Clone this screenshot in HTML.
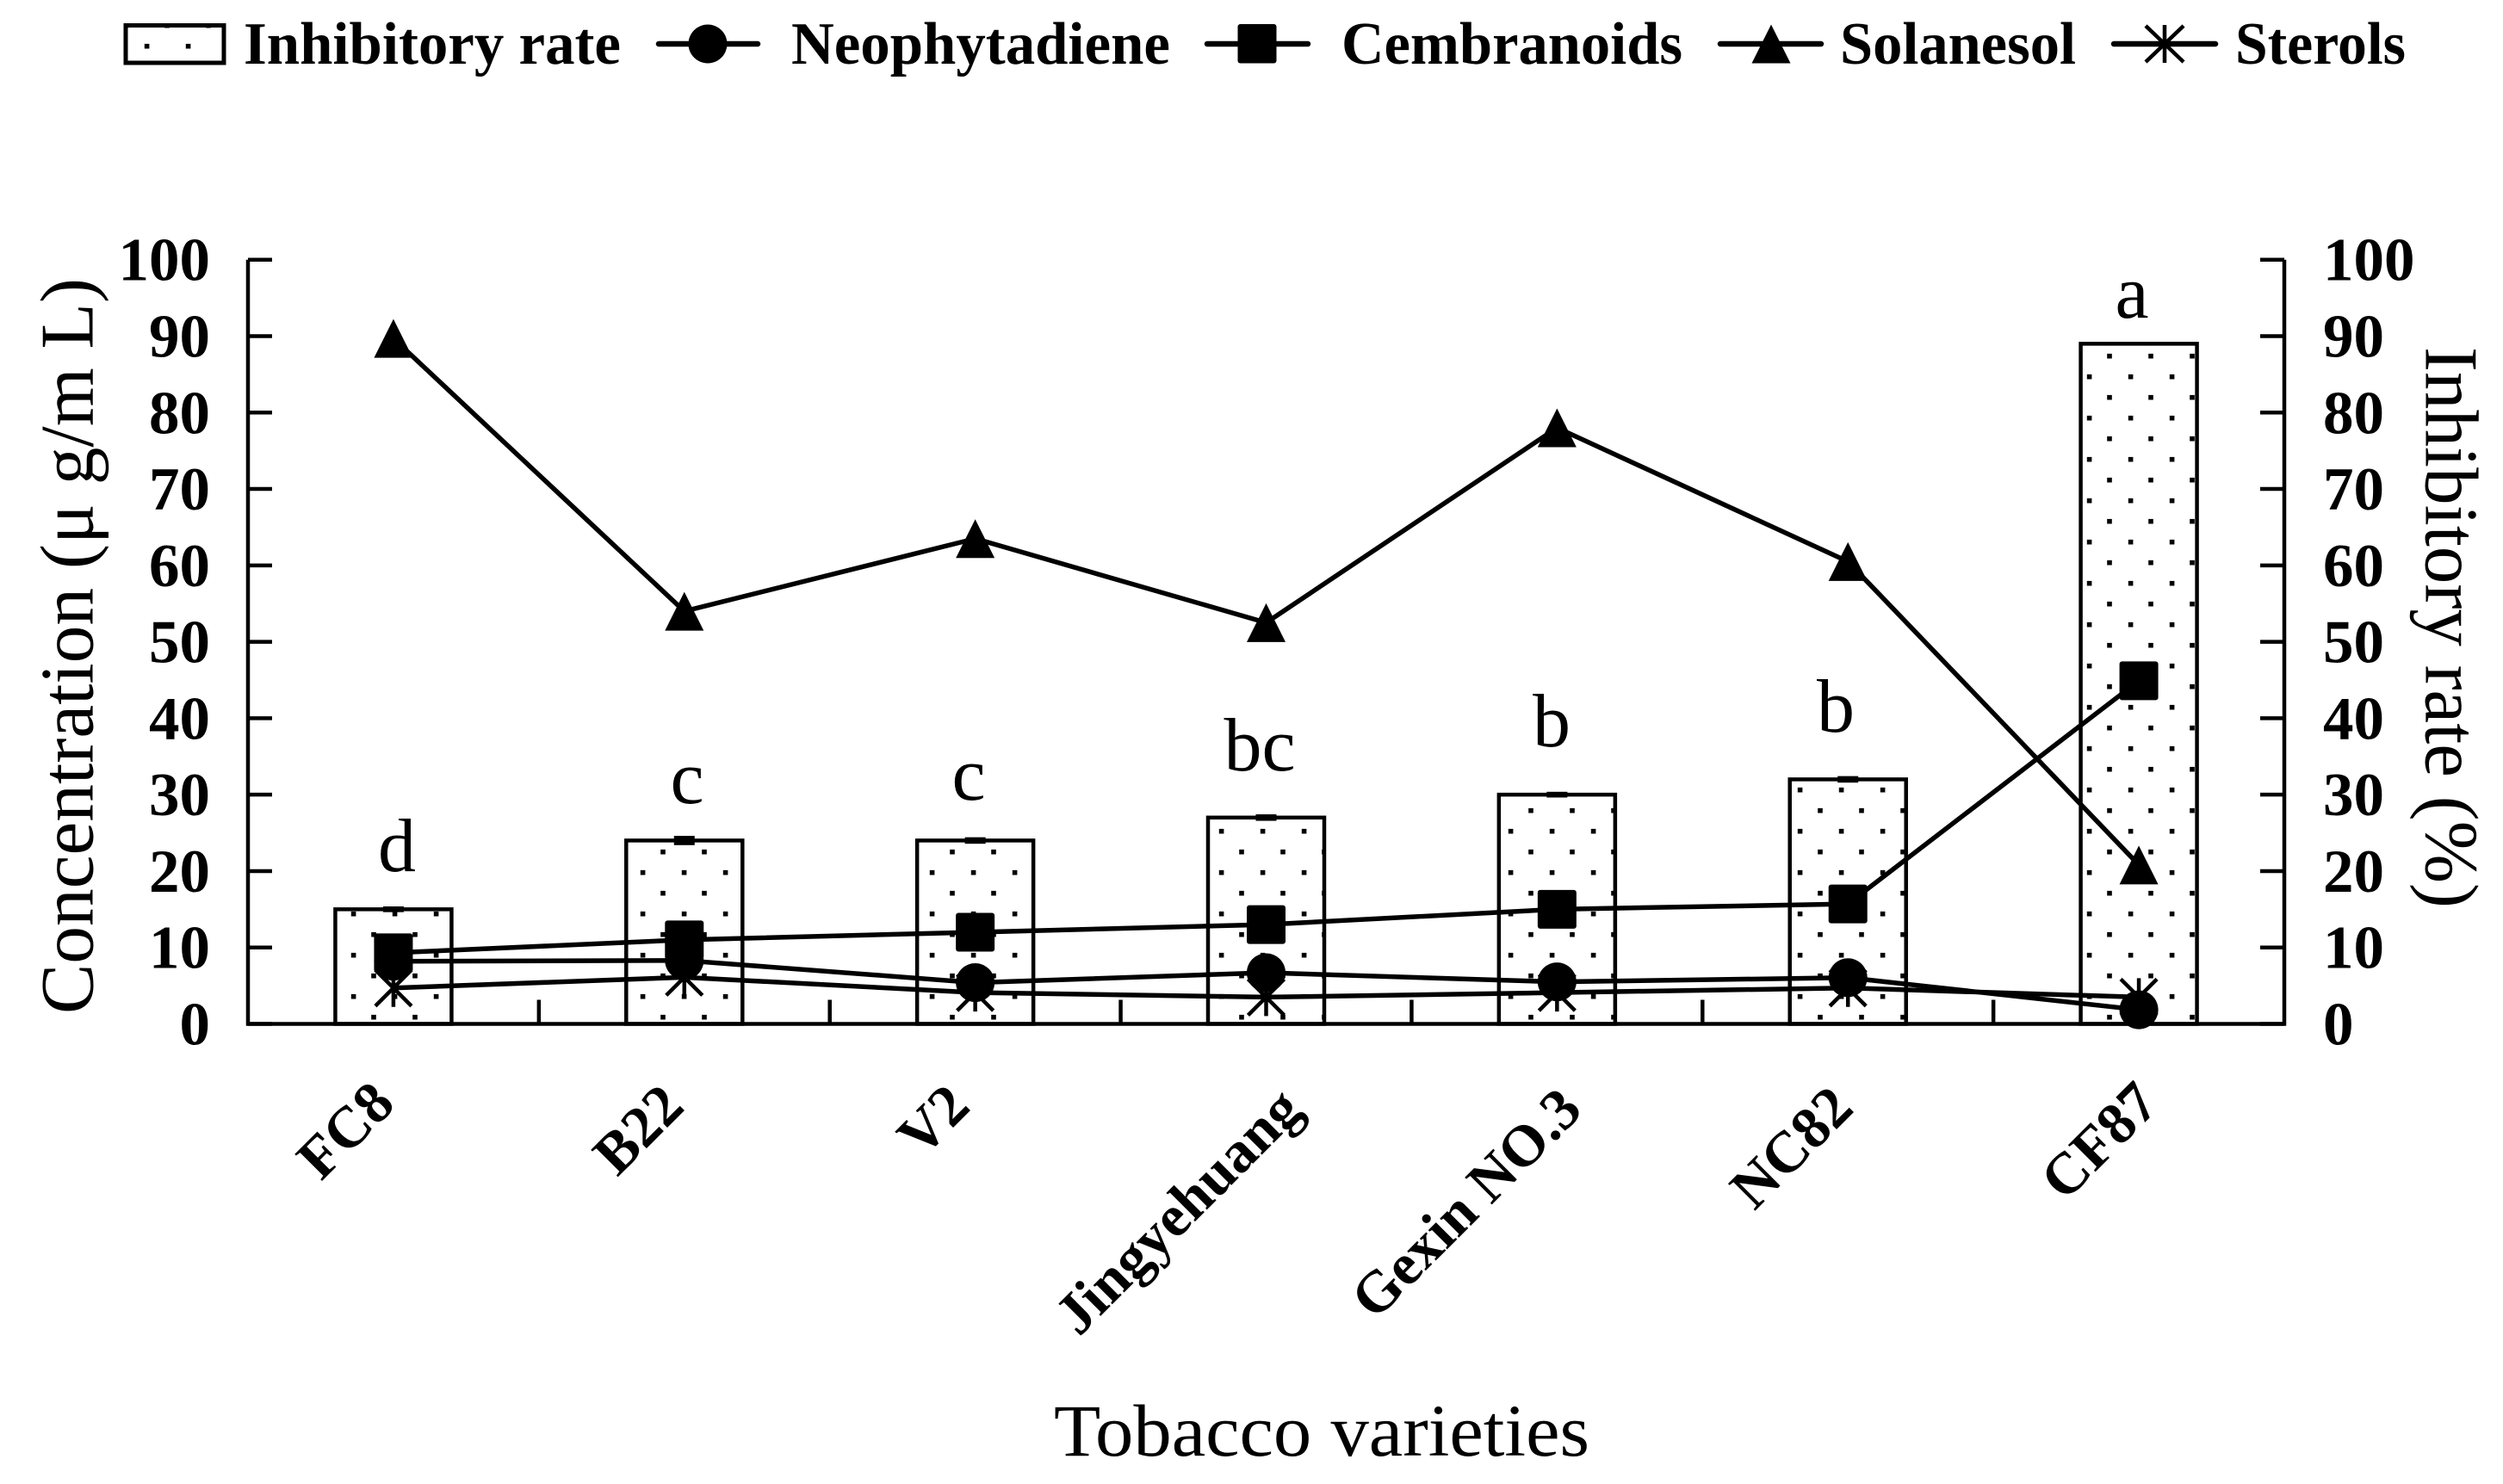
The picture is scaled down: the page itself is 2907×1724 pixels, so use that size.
<!DOCTYPE html>
<html lang="en">
<head>
<meta charset="utf-8">
<title>Tobacco varieties chart</title>
<style>
html,body{margin:0;padding:0;background:#fff;width:2907px;height:1724px;overflow:hidden}
svg{display:block}
text{font-family:"Liberation Serif",serif;fill:#000}
</style>
</head>
<body>
<svg id="chart" xmlns="http://www.w3.org/2000/svg" width="2907" height="1724" viewBox="0 0 2907 1724">
  <defs>
    <pattern id="dots" x="-10" y="0" width="48" height="48" patternUnits="userSpaceOnUse">
      <rect width="48" height="48" fill="#fff"/>
      <rect x="9.2" y="26.9" width="5.6" height="5.6" fill="#000"/>
      <rect x="33.8" y="2.9" width="5.6" height="5.6" fill="#000"/>
    </pattern>
  </defs>
  <rect width="2907" height="1724" fill="#fff"/>

  <g id="bars"></g>
  <g id="axes"></g>
  <g id="series"></g>

  <g font-size="88" text-anchor="middle">
    <text x="461" y="1012">d</text>
    <text x="798" y="933">c</text>
    <text x="1125" y="929">c</text>
    <text x="1463" y="895">bc</text>
    <text x="1802" y="867">b</text>
    <text x="2132" y="850">b</text>
    <text x="2476" y="369">a</text>
  </g>

  <g font-size="68" font-weight="bold" text-anchor="end">
    <text transform="translate(461 1285) rotate(-45)">FC8</text>
    <text transform="translate(797 1288) rotate(-45)">B22</text>
    <text transform="translate(1129 1288) rotate(-45)">V2</text>
    <text transform="translate(1515 1292) rotate(-45)">Jingyehuang</text>
    <text transform="translate(1840 1292) rotate(-45)">Gexin NO.3</text>
    <text transform="translate(2155 1290) rotate(-45)">NC82</text>
    <text transform="translate(2510 1285) rotate(-45)">CF87</text>
  </g>

  <text x="1224" y="1691" font-size="86" textLength="622" lengthAdjust="spacingAndGlyphs">Tobacco varieties</text>
  <text transform="translate(107.5 1178) rotate(-90)" font-size="88" textLength="855" lengthAdjust="spacingAndGlyphs">Concentration (μ g/m L)</text>
  <text transform="translate(2817.7 403) rotate(90)" font-size="88" textLength="652" lengthAdjust="spacingAndGlyphs">Inhibitory rate (%)</text>

  <g font-size="70" font-weight="bold">
    <g>
      <rect x="146" y="29.5" width="114" height="43.5" fill="url(#dots)" stroke="#000" stroke-width="5"/>
      <text x="283" y="74" textLength="438" lengthAdjust="spacingAndGlyphs">Inhibitory rate</text>
    </g>
    <g>
      <line x1="765" y1="51" x2="880" y2="51" stroke="#000" stroke-width="6.5" stroke-linecap="round"/>
      <ellipse cx="822" cy="51" rx="22.5" ry="22.5" fill="#000"/>
      <text x="919" y="74" textLength="440" lengthAdjust="spacingAndGlyphs">Neophytadiene</text>
    </g>
    <g>
      <line x1="1402" y1="51" x2="1519" y2="51" stroke="#000" stroke-width="6.5" stroke-linecap="round"/>
      <rect x="1437.5" y="28" width="45" height="45.5" rx="3" fill="#000"/>
      <text x="1558" y="74" textLength="396" lengthAdjust="spacingAndGlyphs">Cembranoids</text>
    </g>
    <g>
      <line x1="1998" y1="51" x2="2115" y2="51" stroke="#000" stroke-width="6.5" stroke-linecap="round"/>
      <polygon points="2057,28.5 2079.5,73.5 2034.5,73.5" fill="#000"/>
      <text x="2137" y="74" textLength="274" lengthAdjust="spacingAndGlyphs">Solanesol</text>
    </g>
    <g>
      <line x1="2455" y1="51" x2="2573" y2="51" stroke="#000" stroke-width="6.5" stroke-linecap="round"/>
      <path d="M2514 29V73M2492 30L2536 72M2536 30L2492 72" stroke="#000" stroke-width="4.5" fill="none"/>
      <text x="2596" y="74" textLength="198" lengthAdjust="spacingAndGlyphs">Sterols</text>
    </g>
  </g>
</svg>
<script>
const categories = ["FC8", "B22", "V2", "Jingyehuang", "Gexin NO.3", "NC82", "CF87"];
const inhibitoryRate = [15, 24, 24, 27, 30, 32, 89];
const inhibitoryError = [0.15, 0.38, 0.2, 0.2, 0.15, 0.2, 0];
const neophytadiene = [8.2, 8.3, 5.4, 6.7, 5.5, 6.05, 1.85];
const cembranoids = [9.3, 11, 12, 13, 15, 15.7, 44.9];
const solanesol = [89.7, 54, 63.5, 52.5, 78, 60.5, 20.8];
const sterols = [4.7, 6.1, 4.1, 3.5, 4.1, 4.7, 3.5];
const leftTicks = [0, 10, 20, 30, 40, 50, 60, 70, 80, 90, 100];
const rightTicks = [0, 10, 20, 30, 40, 50, 60, 70, 80, 90, 100];

const plotLeft = 288, plotRight = 2653, plotBottom = 1189.5, plotTop = 301.7;
const NS = 'http://www.w3.org/2000/svg';
const xBand = (plotRight - plotLeft) / categories.length;
function xPos(i) { return plotLeft + xBand * (i + 0.5); }
function xEdge(i) { return plotLeft + xBand * i; }
function yPos(v) { return plotBottom - (plotBottom - plotTop) * v / 100; }
function make(tag, attrs, parent) {
  const el = document.createElementNS(NS, tag);
  for (const k in attrs) el.setAttribute(k, attrs[k]);
  parent.appendChild(el);
  return el;
}
const barsG = document.getElementById('bars');
const axesG = document.getElementById('axes');
const seriesG = document.getElementById('series');
const barWidth = 135;

inhibitoryRate.forEach(function (v, i) {
  const bar = make('rect', { x: xPos(i) - barWidth / 2, y: yPos(v), width: barWidth, height: plotBottom - yPos(v), fill: 'url(#dots)', stroke: '#000', 'stroke-width': 4.5 }, barsG);
  
  
  const e = inhibitoryError[i];
  if (e > 0) {
    const cap = make('rect', { x: xPos(i) - 12, y: yPos(v + e) - 2, width: 24, height: yPos(v - e) - yPos(v + e) + 4, fill: '#000' }, barsG);
    
    
  }
});

const axisPath = make('path', { d: 'M' + plotLeft + ' ' + plotTop + 'V' + plotBottom + 'H' + plotRight + 'V' + plotTop, fill: 'none', stroke: '#000', 'stroke-width': 4.5 }, axesG);



leftTicks.forEach(function (t) {
  const y = yPos(t);
  const tick = make('line', { x1: plotLeft, x2: plotLeft + 28, y1: y, y2: y, stroke: '#000', 'stroke-width': 4.5 }, axesG);
  
  
  const label = make('text', { x: 244, y: y + 24, 'font-size': 71, 'font-weight': 'bold', 'text-anchor': 'end' }, axesG);
  label.textContent = t;
  
  
});
rightTicks.forEach(function (t) {
  const y = yPos(t);
  const tick = make('line', { x1: plotRight - 28, x2: plotRight, y1: y, y2: y, stroke: '#000', 'stroke-width': 4.5 }, axesG);
  
  
  const label = make('text', { x: 2698, y: y + 24, 'font-size': 71, 'font-weight': 'bold' }, axesG);
  label.textContent = t;
  
  
});
categories.forEach(function (c, i) {
  if (i === 0) return;
  const tick = make('line', { x1: xEdge(i), x2: xEdge(i), y1: plotBottom, y2: plotBottom - 28, stroke: '#000', 'stroke-width': 4.5 }, axesG);
  
  
});

function drawLine(values, name) {
  const pts = values.map(function (v, i) { return xPos(i) + ',' + yPos(v); }).join(' ');
  const line = make('polyline', { points: pts, fill: 'none', stroke: '#000', 'stroke-width': 5.5, 'stroke-linejoin': 'round' }, seriesG);
  
  
}
function markerAttrs(el, name, i) {
  
  
}
drawLine(neophytadiene, 'neophytadiene');
drawLine(cembranoids, 'cembranoids');
drawLine(solanesol, 'solanesol');
drawLine(sterols, 'sterols');

neophytadiene.forEach(function (v, i) {
  const m = make('circle', { cx: xPos(i), cy: yPos(v), r: 22.5, fill: '#000' }, seriesG);
  markerAttrs(m, 'neophytadiene', i);
});
cembranoids.forEach(function (v, i) {
  const m = make('rect', { x: xPos(i) - 22.5, y: yPos(v) - 22.5, width: 45, height: 45, rx: 3, fill: '#000' }, seriesG);
  markerAttrs(m, 'cembranoids', i);
});
solanesol.forEach(function (v, i) {
  const x = xPos(i), y = yPos(v);
  const m = make('polygon', { points: x + ',' + (y - 22.5) + ' ' + (x + 22.5) + ',' + (y + 22.5) + ' ' + (x - 22.5) + ',' + (y + 22.5), fill: '#000' }, seriesG);
  markerAttrs(m, 'solanesol', i);
});
sterols.forEach(function (v, i) {
  const x = xPos(i), y = yPos(v);
  const d = 'M' + x + ' ' + (y - 22) + 'V' + (y + 22) +
    'M' + (x - 21) + ' ' + (y - 21) + 'L' + (x + 21) + ' ' + (y + 21) +
    'M' + (x + 21) + ' ' + (y - 21) + 'L' + (x - 21) + ' ' + (y + 21);
  const m = make('path', { d: d, fill: 'none', stroke: '#000', 'stroke-width': 4.5 }, seriesG);
  markerAttrs(m, 'sterols', i);
});
</script>
</body>
</html>
